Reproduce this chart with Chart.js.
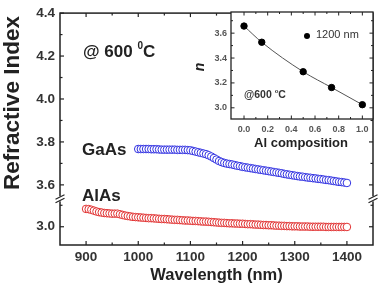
<!DOCTYPE html>
<html lang="en">
<head>
<meta charset="UTF-8">
<title>Refractive Index vs Wavelength</title>
<script src="https://cdn.jsdelivr.net/npm/chart.js"></script>
<style>
  html, body { margin: 0; padding: 0; background: #fff; }
  #wrap { position: relative; width: 381px; height: 286px; }
  #mainChart { position: absolute; left: 0; top: 0; }
  #insetChart { position: absolute; left: 185px; top: 0; }
</style>
</head>
<body>
<div id="wrap">
  <canvas id="mainChart" width="381" height="286"></canvas>
  <canvas id="insetChart" width="196" height="155"></canvas>
</div>
<script>
// sampling of the measured spectra (nm)
const wlStep = 5;
const gaasStart = 1000;
const alasStart = 900;

// GaAs, 1000..1400 nm
const gaasN = [
  3.767, 3.767, 3.767, 3.767, 3.767, 3.766, 3.766, 3.766, 3.765, 3.764,
  3.764, 3.764, 3.764, 3.764, 3.764, 3.763, 3.763, 3.763, 3.763, 3.762,
  3.761, 3.758, 3.755, 3.752, 3.749, 3.746, 3.743, 3.738, 3.732, 3.725,
  3.718, 3.711, 3.706, 3.702, 3.699, 3.697, 3.695, 3.692, 3.689, 3.687,
  3.684, 3.682, 3.680, 3.678, 3.676, 3.674, 3.672, 3.670, 3.668, 3.666,
  3.664, 3.662, 3.660, 3.658, 3.656, 3.654, 3.651, 3.649, 3.647, 3.645,
  3.643, 3.641, 3.639, 3.638, 3.636, 3.634, 3.633, 3.631, 3.630, 3.628,
  3.627, 3.625, 3.623, 3.622, 3.620, 3.618, 3.616, 3.614, 3.613, 3.611,
  3.609
];

// AlAs, 900..1400 nm
const alasN = [
  3.083, 3.082, 3.079, 3.075, 3.071, 3.068, 3.066, 3.064, 3.063, 3.062,
  3.061, 3.061, 3.061, 3.058, 3.055, 3.052, 3.050, 3.048, 3.046, 3.045,
  3.044, 3.043, 3.042, 3.041, 3.040, 3.040, 3.039, 3.038, 3.037, 3.036,
  3.036, 3.035, 3.034, 3.033, 3.032, 3.032, 3.031, 3.030, 3.029, 3.029,
  3.028, 3.027, 3.027, 3.026, 3.025, 3.024, 3.024, 3.023, 3.022, 3.021,
  3.020, 3.019, 3.018, 3.018, 3.017, 3.016, 3.016, 3.015, 3.015, 3.014,
  3.014, 3.013, 3.012, 3.012, 3.011, 3.010, 3.010, 3.009, 3.008, 3.008,
  3.007, 3.007, 3.006, 3.005, 3.005, 3.004, 3.004, 3.003, 3.003, 3.002,
  3.002, 3.002, 3.001, 3.001, 3.001, 3.001, 3.000, 3.000, 3.000, 3.000,
  3.000, 3.000, 2.999, 2.999, 2.999, 2.999, 2.999, 2.999, 2.999, 2.999,
  2.999
];

const xTicks = [900, 1000, 1100, 1200, 1300, 1400];
const yTopTicks = [3.6, 3.8, 4.0, 4.2, 4.4];
const yBotTicks = [3.0];

// inset: n at 1200 nm vs Al composition
const alComp = [0.0, 0.15, 0.5, 0.74, 1.0];
const nAt1200 = [3.657, 3.527, 3.290, 3.163, 3.025];
const insetXTicks = [0.0, 0.2, 0.4, 0.6, 0.8, 1.0];
const insetYTicks = [3.0, 3.2, 3.4, 3.6];

const FONT = "'Liberation Sans', Arial, sans-serif";
const INK = '#222';

function toPoints(start, values) {
  return values.map((y, i) => ({ x: start + i * wlStep, y: y }));
}
function setTicks(list) {
  return scale => { scale.ticks = list.map(v => ({ value: v })); };
}
function line(ctx, x1, y1, x2, y2) {
  ctx.beginPath(); ctx.moveTo(x1, y1); ctx.lineTo(x2, y2); ctx.stroke();
}
// text with a raised small part, e.g. "@ 600 " + "0" + "C"
function supText(ctx, x, y, pre, sup, post, size) {
  ctx.font = 'bold ' + size + 'px ' + FONT;
  ctx.textAlign = 'left';
  ctx.textBaseline = 'middle';
  ctx.fillText(pre, x, y);
  let w = ctx.measureText(pre).width;
  ctx.font = 'bold ' + Math.round(size * 0.6) + 'px ' + FONT;
  ctx.fillText(sup, x + w, y - size * 0.33);
  w += ctx.measureText(sup).width;
  ctx.font = 'bold ' + size + 'px ' + FONT;
  ctx.fillText(post, x + w, y);
}

const mainDecor = {
  id: 'mainDecor',
  afterDraw(chart) {
    const ctx = chart.ctx, a = chart.chartArea;
    const sx = chart.scales.x, yt = chart.scales.yTop, yb = chart.scales.yBot;
    ctx.save();
    ctx.strokeStyle = INK;
    ctx.lineWidth = 1.5;
    ctx.strokeRect(a.left, a.top, a.right - a.left, a.bottom - a.top);

    ctx.lineWidth = 1.2;
    for (let v = 900; v <= 1400; v += 50) {
      const len = v % 100 === 0 ? 4 : 2.5;
      const px = sx.getPixelForValue(v);
      line(ctx, px, a.bottom, px, a.bottom - len);
      line(ctx, px, a.top, px, a.top + len);
    }
    const yTicksAll = [[yt, 3.6, 4.4, yTopTicks], [yb, 3.0, 3.1, yBotTicks]];
    yTicksAll.forEach(([s, lo, hi, major]) => {
      for (let v = lo; v <= hi + 1e-6; v += 0.1) {
        const len = major.some(m => Math.abs(m - v) < 1e-6) ? 4 : 2.5;
        const py = s.getPixelForValue(v);
        line(ctx, a.left, py, a.left + len, py);
        line(ctx, a.right, py, a.right - len, py);
      }
    });

    // axis break marks
    const yBreak = yb.top;
    [a.left, a.right].forEach(xe => {
      ctx.fillStyle = '#fff';
      ctx.fillRect(xe - 2, yBreak - 2.5, 4, 5);
      ctx.lineWidth = 1.2;
      line(ctx, xe - 4.5, yBreak + 0.5, xe + 4.5, yBreak - 4);
      line(ctx, xe - 4.5, yBreak + 4, xe + 4.5, yBreak - 0.5);
    });

    ctx.fillStyle = INK;
    ctx.font = 'bold 22.5px ' + FONT;
    ctx.textAlign = 'center';
    ctx.textBaseline = 'middle';
    ctx.save();
    ctx.translate(13, 103);
    ctx.rotate(-Math.PI / 2);
    ctx.fillText('Refractive Index', 0, 0);
    ctx.restore();

    ctx.font = 'bold 16.5px ' + FONT;
    ctx.fillText('Wavelength (nm)', (a.left + a.right) / 2, 275);

    supText(ctx, 83, 52, '@ 600 ', '0', 'C', 17);

    ctx.font = 'bold 17px ' + FONT;
    ctx.textAlign = 'left';
    ctx.fillText('GaAs', 82, 150);
    ctx.fillText('AlAs', 82, 196);
    ctx.restore();
  }
};

const tickFont = { family: FONT, size: 13.5, weight: 'bold' };

new Chart(document.getElementById('mainChart'), {
  type: 'scatter',
  data: {
    datasets: [
      {
        label: 'GaAs',
        data: toPoints(gaasStart, gaasN),
        yAxisID: 'yTop',
        borderColor: 'rgb(50, 50, 225)',
        backgroundColor: '#fff',
        pointRadius: 3.8,
        borderWidth: 1
      },
      {
        label: 'AlAs',
        data: toPoints(alasStart, alasN),
        yAxisID: 'yBot',
        borderColor: 'rgb(225, 50, 50)',
        backgroundColor: '#fff',
        pointRadius: 3.8,
        borderWidth: 1
      }
    ]
  },
  options: {
    responsive: false,
    animation: false,
    layout: { padding: { top: 12, right: 8, left: 0, bottom: 0 } },
    plugins: { legend: { display: false }, tooltip: { enabled: false } },
    scales: {
      x: {
        type: 'linear', min: 850, max: 1450,
        afterBuildTicks: setTicks(xTicks),
        grid: { display: false, drawTicks: false },
        border: { display: false },
        ticks: { font: tickFont, color: '#333', padding: 4, callback: v => String(v) },
        afterFit: s => { s.height = 41; }
      },
      // stacked axes are laid out bottom-up in definition order
      yBot: {
        type: 'linear', position: 'left', stack: 'n', stackWeight: 0.215,
        min: 2.915, max: 3.13,
        afterBuildTicks: setTicks(yBotTicks),
        grid: { display: false, drawTicks: false },
        border: { display: false },
        ticks: { font: tickFont, color: '#333', padding: 5, callback: v => v.toFixed(1) },
        afterFit: s => { s.width = 60; }
      },
      yTop: {
        type: 'linear', position: 'left', stack: 'n', stackWeight: 0.865,
        min: 3.535, max: 4.4,
        afterBuildTicks: setTicks(yTopTicks),
        grid: { display: false, drawTicks: false },
        border: { display: false },
        ticks: { font: tickFont, color: '#333', padding: 5, callback: v => v.toFixed(1) },
        afterFit: s => { s.width = 60; }
      }
    }
  },
  plugins: [mainDecor]
});

const insetDecor = {
  id: 'insetDecor',
  beforeDraw(chart) {
    const ctx = chart.ctx, a = chart.chartArea;
    ctx.save();
    ctx.fillStyle = '#fff';
    ctx.fillRect(a.left, a.top, a.right - a.left, a.bottom - a.top);
    ctx.restore();
  },
  afterDraw(chart) {
    const ctx = chart.ctx, a = chart.chartArea;
    const sx = chart.scales.x, sy = chart.scales.y;
    ctx.save();
    ctx.strokeStyle = INK;
    ctx.lineWidth = 1.3;
    ctx.strokeRect(a.left, a.top, a.right - a.left, a.bottom - a.top);
    ctx.lineWidth = 1;
    for (let v = 0; v <= 1.0001; v += 0.1) {
      const len = insetXTicks.some(m => Math.abs(m - v) < 1e-6) ? 3.5 : 2;
      const px = sx.getPixelForValue(v);
      line(ctx, px, a.bottom, px, a.bottom - len);
      line(ctx, px, a.top, px, a.top + len);
    }
    for (let v = 3.0; v <= 3.7001; v += 0.1) {
      const len = insetYTicks.some(m => Math.abs(m - v) < 1e-6) ? 3.5 : 2;
      const py = sy.getPixelForValue(v);
      line(ctx, a.left, py, a.left + len, py);
      line(ctx, a.right, py, a.right - len, py);
    }

    ctx.fillStyle = INK;
    ctx.textBaseline = 'middle';
    ctx.save();
    ctx.translate(15, 67);
    ctx.rotate(-Math.PI / 2);
    ctx.font = 'italic bold 14px ' + FONT;
    ctx.textAlign = 'center';
    ctx.fillText('n', 0, 0);
    ctx.restore();

    ctx.font = 'bold 13px ' + FONT;
    ctx.textAlign = 'center';
    ctx.fillText('Al composition', (a.left + a.right) / 2 - 1, 143);

    ctx.fillStyle = '#000';
    ctx.beginPath();
    ctx.arc(122, 36, 3, 0, Math.PI * 2);
    ctx.fill();
    ctx.fillStyle = '#333';
    ctx.font = '11px ' + FONT;
    ctx.textAlign = 'left';
    ctx.fillText('1200 nm', 131, 35);

    ctx.fillStyle = '#333';
    supText(ctx, 59, 95, '@600 ', 'o', 'C', 10.5);
    ctx.restore();
  }
};

const insetTickFont = { family: FONT, size: 9, weight: 'bold' };

new Chart(document.getElementById('insetChart'), {
  type: 'scatter',
  data: {
    datasets: [{
      label: '1200 nm',
      data: alComp.map((x, i) => ({ x: x, y: nAt1200[i] })),
      showLine: true,
      cubicInterpolationMode: 'monotone',
      borderColor: '#555',
      borderWidth: 1,
      pointRadius: 3.2,
      pointBackgroundColor: '#000',
      pointBorderColor: '#000'
    }]
  },
  options: {
    responsive: false,
    animation: false,
    layout: { padding: { top: 12, right: 8, left: 0, bottom: 0 } },
    plugins: { legend: { display: false }, tooltip: { enabled: false } },
    scales: {
      x: {
        type: 'linear', min: -0.11, max: 1.09,
        afterBuildTicks: setTicks(insetXTicks),
        grid: { display: false, drawTicks: false },
        border: { display: false },
        ticks: { font: insetTickFont, color: '#555', padding: 5, callback: v => v.toFixed(1) },
        afterFit: s => { s.height = 36; }
      },
      y: {
        type: 'linear', min: 2.91, max: 3.77,
        afterBuildTicks: setTicks(insetYTicks),
        grid: { display: false, drawTicks: false },
        border: { display: false },
        ticks: { font: insetTickFont, color: '#555', padding: 4, callback: v => v.toFixed(1) },
        afterFit: s => { s.width = 46; }
      }
    }
  },
  plugins: [insetDecor]
});
</script>
</body>
</html>
